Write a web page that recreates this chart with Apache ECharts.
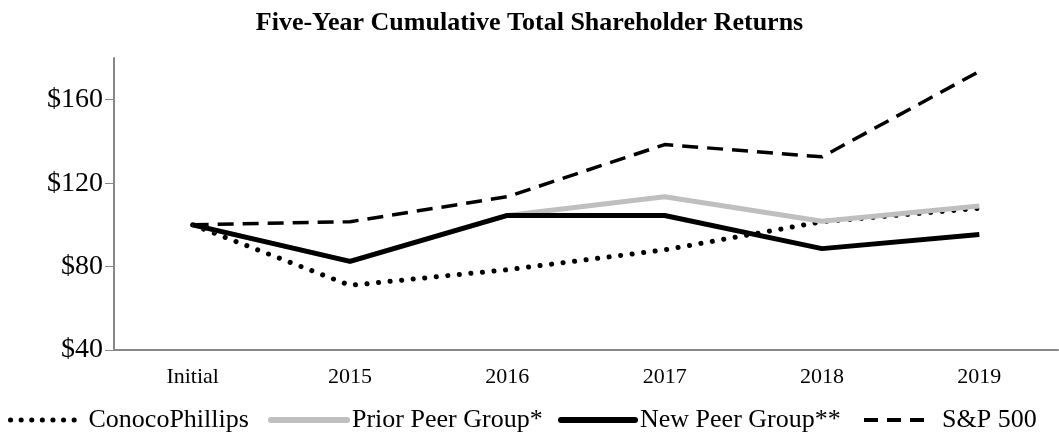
<!DOCTYPE html>
<html>
<head>
<meta charset="utf-8">
<script src="https://cdn.jsdelivr.net/npm/echarts@6/dist/echarts.min.js"></script>
<style>
  html, body { margin: 0; padding: 0; background: #fff; }
  #chart { width: 1059px; height: 437px; }
</style>
</head>
<body>
<div id="chart"></div>
<script>
// 年份 / 类目
var years = ['Initial', '2015', '2016', '2017', '2018', '2019'];
// 各系列数值
var conoco = [100, 71, 78.5, 88, 101.5, 108];
var priorPeer = [100, 82.5, 104.5, 113.5, 101.7, 109];
var newPeer = [100, 82.5, 104.5, 104.5, 88.6, 95.4];
var sp500 = [100, 101.5, 113.5, 138.5, 132.6, 173.6];
// y轴刻度
var yTicks = [40, 80, 120, 160];
// 图例名称
var names = ['ConocoPhillips', 'Prior Peer Group*', 'New Peer Group**', 'S&P 500'];

var serif = '"Liberation Serif", "Times New Roman", serif';

// 线型
var styles = [
  { color: '#000', width: 5, type: [0.1, 11.5], cap: 'round' },
  { color: '#bfbfbf', width: 5 },
  { color: '#000', width: 5 },
  { color: '#000', width: 3.5, type: [16, 9] }
];
var legendStyles = [
  { color: '#000', width: 5, type: [0.1, 10.5], cap: 'round' },
  { color: '#bfbfbf', width: 6, cap: 'round' },
  { color: '#000', width: 6, cap: 'round' },
  { color: '#000', width: 4, type: [14, 9] }
];

// 每个图例单独放，位置对齐原图
var legendLeft = [8, 268, 558, 862];
var legendIconW = [64, 76, 74, 68];
var legendPad = [9, 0, 0, 5];
var legends = names.map(function (n, i) {
  return {
    data: [n],
    left: legendLeft[i],
    top: 407,
    itemWidth: legendIconW[i],
    itemHeight: 12,
    itemGap: 0,
    padding: 0,
    itemStyle: { opacity: 0 },
    lineStyle: legendStyles[i],
    textStyle: { fontFamily: serif, fontSize: 26, color: '#000', padding: [0, 0, 0, legendPad[i]] }
  };
});

var option = {
  animation: false,
  title: {
    text: 'Five-Year Cumulative Total Shareholder Returns',
    left: 'center',
    top: 5,
    textStyle: { fontFamily: serif, fontSize: 26, fontWeight: 'bold', color: '#000' }
  },
  legend: legends,
  grid: { left: 114, right: 1, top: 58, bottom: 87 },
  xAxis: {
    type: 'category',
    data: years,
    boundaryGap: true,
    axisLine: { lineStyle: { color: '#888', width: 2 } },
    axisTick: { show: false },
    axisLabel: { fontFamily: serif, fontSize: 22, color: '#000', margin: 16 }
  },
  yAxis: {
    type: 'value',
    min: 40,
    max: 180,
    interval: 40,
    axisLine: { show: true, lineStyle: { color: '#888', width: 2 } },
    axisTick: { show: true, length: 9, lineStyle: { color: '#888' },
      customValues: yTicks },
    splitLine: { show: false },
    axisLabel: {
      fontFamily: serif, fontSize: 28, color: '#000', margin: 11,
      customValues: yTicks,
      formatter: function (v) { return '$' + v; }
    }
  },
  series: [
    { name: names[0], type: 'line', data: conoco, symbol: 'none', itemStyle: { color: '#000' }, lineStyle: styles[0] },
    { name: names[1], type: 'line', data: priorPeer, symbol: 'none', itemStyle: { color: '#bfbfbf' }, lineStyle: styles[1] },
    { name: names[2], type: 'line', data: newPeer, symbol: 'none', itemStyle: { color: '#000' }, lineStyle: styles[2] },
    { name: names[3], type: 'line', data: sp500, symbol: 'none', itemStyle: { color: '#000' }, lineStyle: styles[3] }
  ]
};

var myChart = echarts.init(document.getElementById('chart'));
myChart.setOption(option);
</script>
</body>
</html>
